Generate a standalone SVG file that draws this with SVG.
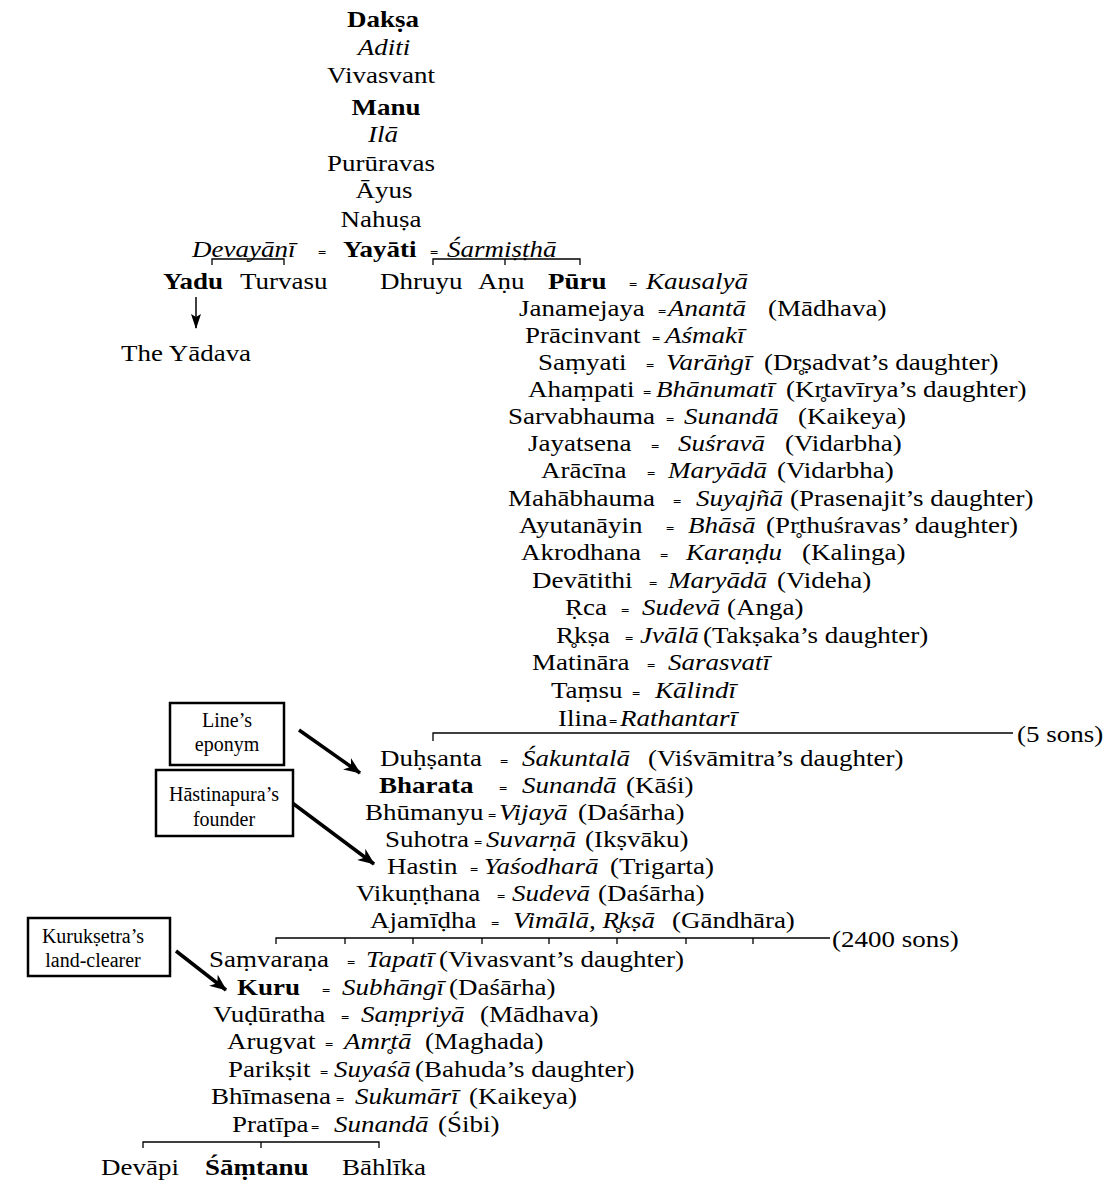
<svg xmlns="http://www.w3.org/2000/svg" width="1115" height="1180" viewBox="0 0 1115 1180">
<style>
text{font-family:"Liberation Serif","Times New Roman",serif;font-size:24px;fill:#000}
.b{font-weight:bold}
.i{font-style:italic}
.eq{font-size:13px;font-style:normal;font-weight:bold}
.m{text-anchor:middle}
.bt{font-size:20px;text-anchor:middle}
.box{fill:#fff;stroke:#000;stroke-width:2.5}
.ln{stroke:#000;stroke-width:1.3;fill:none}
.ar{stroke:#000;stroke-width:3.5;fill:none}
.ya{stroke:#000;stroke-width:1.5;fill:none}
</style>
<defs>
<marker id="hb" markerUnits="userSpaceOnUse" markerWidth="20" markerHeight="14" refX="16" refY="7" orient="auto">
<path d="M0,0 L17,7 L0,14 L5,7 z" fill="#000"/>
</marker>
<marker id="hs" markerUnits="userSpaceOnUse" markerWidth="16" markerHeight="10" refX="14" refY="5" orient="auto">
<path d="M0,0 L15,5 L0,10 L3,5 z" fill="#000"/>
</marker>
</defs>
<rect width="1115" height="1180" fill="#fff"/>

<g id="connectors">
<path class="ln" d="M212,265 V259 H284 V265"/>
<path class="ln" d="M433,265 V259 H580 V265 M505,259 V265"/>
<line class="ya" x1="196" y1="297" x2="196" y2="328" marker-end="url(#hs)"/>
<path class="ln" d="M433,741 V733 H1013"/>
<path class="ln" d="M276,944 V938 H830 M345,938 V944 M413,938 V944 M482,938 V944 M549,938 V944 M617,938 V944 M686,938 V944 M753,938 V944"/>
<path class="ln" d="M143,1148 V1142 H379 V1148 M261,1142 V1148"/>
<line class="ar" x1="299" y1="730" x2="360" y2="773" marker-end="url(#hb)"/>
<line class="ar" x1="291" y1="802" x2="374" y2="864" marker-end="url(#hb)"/>
<line class="ar" x1="176" y1="951" x2="226" y2="990" marker-end="url(#hb)"/>
</g>

<g id="names" transform="scale(1.125,1)">
<g id="n-daksa"><text class="b m" x="340.44" y="27">Dakṣa</text></g>
<g id="n-aditi"><text class="i m" x="341.33" y="55">Aditi</text></g>
<g id="n-vivasvant"><text class="m" x="338.67" y="83">Vivasvant</text></g>
<g id="n-manu"><text class="b m" x="343.11" y="115">Manu</text></g>
<g id="n-ila"><text class="i m" x="340.44" y="142">Ilā</text></g>
<g id="n-pururavas"><text class="m" x="338.67" y="171">Purūravas</text></g>
<g id="n-ayus"><text class="m" x="341.33" y="198">Āyus</text></g>
<g id="n-nahusa"><text class="m" x="338.67" y="227">Nahuṣa</text></g>

<g id="n-yayati"><text y="257"><tspan class="i" x="170.67">Devayānī</tspan> <tspan class="eq" x="282.67">=</tspan> <tspan class="b" x="304.89">Yayāti</tspan> <tspan class="eq" x="382.22">=</tspan> <tspan class="i" x="397.33">Śarmiṣṭhā</tspan></text></g>

<g id="n-yadu"><text class="b" x="144.89" y="289">Yadu</text></g>
<g id="n-turvasu"><text x="213.33" y="289">Turvasu</text></g>
<g id="n-dhruyu"><text x="337.78" y="289">Dhruyu</text></g>
<g id="n-anu"><text x="424.89" y="289">Aṇu</text></g>
<g id="n-puru"><text y="289"><tspan class="b" x="487.11">Pūru</tspan> <tspan class="eq" x="559.11">=</tspan><tspan class="i" x="574.22">Kausalyā</tspan></text></g>
<g id="n-yadava"><text x="107.56" y="361">The Yādava</text></g>

<g id="n-janamejaya"><text y="316"><tspan x="461.33">Janamejaya</tspan> <tspan class="eq" x="584.89">=</tspan><tspan class="i" x="593.78">Anantā</tspan> <tspan x="682.67">(Mādhava)</tspan></text></g>
<g id="n-pracinvant"><text y="343"><tspan x="466.67">Prācinvant</tspan> <tspan class="eq" x="579.56">=</tspan> <tspan class="i" x="591.11">Aśmakī</tspan></text></g>
<g id="n-samyati"><text y="370"><tspan x="478.22">Saṃyati</tspan> <tspan class="eq" x="574.22">=</tspan> <tspan class="i" x="592">Varāṅgī</tspan> <tspan x="679.11">(Dr̥ṣadvat’s daughter)</tspan></text></g>
<g id="n-ahampati"><text y="397"><tspan x="469.33">Ahaṃpati</tspan> <tspan class="eq" x="571.56">=</tspan><tspan class="i" x="583.11">Bhānumatī</tspan> <tspan x="698.67">(Kr̥tavīrya’s daughter)</tspan></text></g>
<g id="n-sarvabhauma"><text y="424"><tspan x="451.56">Sarvabhauma</tspan> <tspan class="eq" x="592">=</tspan> <tspan class="i" x="608">Sunandā</tspan> <tspan x="709.33">(Kaikeya)</tspan></text></g>
<g id="n-jayatsena"><text y="451"><tspan x="469.33">Jayatsena</tspan> <tspan class="eq" x="578.67">=</tspan> <tspan class="i" x="602.67">Suśravā</tspan> <tspan x="697.78">(Vidarbha)</tspan></text></g>
<g id="n-aracina"><text y="478"><tspan x="480.89">Arācīna</tspan> <tspan class="eq" x="575.11">=</tspan> <tspan class="i" x="593.78">Maryādā</tspan> <tspan x="690.67">(Vidarbha)</tspan></text></g>
<g id="n-mahabhauma"><text y="506"><tspan x="451.56">Mahābhauma</tspan> <tspan class="eq" x="598.22">=</tspan> <tspan class="i" x="618.67">Suyajñā</tspan> <tspan x="702.22">(Prasenajit’s daughter)</tspan></text></g>
<g id="n-ayutanayin"><text y="533"><tspan x="461.33">Ayutanāyin</tspan> <tspan class="eq" x="592">=</tspan> <tspan class="i" x="611.56">Bhāsā</tspan> <tspan x="680.89">(Pr̥thuśravas’ daughter)</tspan></text></g>
<g id="n-akrodhana"><text y="560"><tspan x="463.11">Akrodhana</tspan> <tspan class="eq" x="586.67">=</tspan> <tspan class="i" x="609.78">Karaṇḍu</tspan> <tspan x="712.89">(Kalinga)</tspan></text></g>
<g id="n-devatithi"><text y="588"><tspan x="472.89">Devātithi</tspan> <tspan class="eq" x="576.89">=</tspan> <tspan class="i" x="593.78">Maryādā</tspan> <tspan x="690.67">(Videha)</tspan></text></g>
<g id="n-rca"><text y="615"><tspan x="502.22">Ṛca</tspan> <tspan class="eq" x="552">=</tspan> <tspan class="i" x="570.67">Sudevā</tspan> <tspan x="646.22">(Anga)</tspan></text></g>
<g id="n-rksa"><text y="643"><tspan x="494.22">R̥kṣa</tspan> <tspan class="eq" x="555.56">=</tspan> <tspan class="i" x="568.89">Jvālā</tspan> <tspan x="624.89">(Takṣaka’s daughter)</tspan></text></g>
<g id="n-matinara"><text y="670"><tspan x="472.89">Matināra</tspan> <tspan class="eq" x="575.11">=</tspan> <tspan class="i" x="593.78">Sarasvatī</tspan></text></g>
<g id="n-tamsu"><text y="698"><tspan x="489.78">Taṃsu</tspan> <tspan class="eq" x="561.78">=</tspan> <tspan class="i" x="582.22">Kālindī</tspan></text></g>
<g id="n-ilina"><text y="726"><tspan x="496">Ilina</tspan> <tspan class="eq" x="541.33">=</tspan> <tspan class="i" x="551.11">Rathantarī</tspan></text></g>
<g id="n-5sons"><text x="904" y="742">(5 sons)</text></g>

<g id="n-duhsanta"><text y="766"><tspan x="337.78">Duḥṣanta</tspan> <tspan class="eq" x="444.44">=</tspan> <tspan class="i" x="464">Śakuntalā</tspan> <tspan x="576">(Viśvāmitra’s daughter)</tspan></text></g>
<g id="n-bharata"><text y="793"><tspan class="b" x="336.89">Bharata</tspan> <tspan class="eq" x="443.56">=</tspan> <tspan class="i" x="464">Sunandā</tspan> <tspan x="556.44">(Kāśi)</tspan></text></g>
<g id="n-bhumanyu"><text y="820"><tspan x="324.44">Bhūmanyu</tspan> <tspan class="eq" x="433.78">=</tspan> <tspan class="i" x="443.56">Vijayā</tspan> <tspan x="513.78">(Daśārha)</tspan></text></g>
<g id="n-suhotra"><text y="847"><tspan x="342.22">Suhotra</tspan> <tspan class="eq" x="421.33">=</tspan> <tspan class="i" x="432">Suvarṇā</tspan> <tspan x="520">(Ikṣvāku)</tspan></text></g>
<g id="n-hastin"><text y="874"><tspan x="344">Hastin</tspan> <tspan class="eq" x="417.78">=</tspan> <tspan class="i" x="430.22">Yaśodharā</tspan> <tspan x="542.22">(Trigarta)</tspan></text></g>
<g id="n-vikunthana"><text y="901"><tspan x="316.44">Vikuṇṭhana</tspan> <tspan class="eq" x="441.78">=</tspan> <tspan class="i" x="455.11">Sudevā</tspan> <tspan x="531.56">(Daśārha)</tspan></text></g>
<g id="n-ajamidha"><text y="928"><tspan x="328.89">Ajamīḍha</tspan> <tspan class="eq" x="436.44">=</tspan> <tspan class="i" x="456">Vimālā, R̥kṣā</tspan> <tspan x="597.33">(Gāndhāra)</tspan></text></g>
<g id="n-2400sons"><text x="739.56" y="947">(2400 sons)</text></g>

<g id="n-samvarana"><text y="967"><tspan x="185.78">Saṃvaraṇa</tspan> <tspan class="eq" x="308.44">=</tspan> <tspan class="i" x="325.33">Tapatī</tspan> <tspan x="390.22">(Vivasvant’s daughter)</tspan></text></g>
<g id="n-kuru"><text y="995"><tspan class="b" x="210.67">Kuru</tspan> <tspan class="eq" x="286.22">=</tspan> <tspan class="i" x="304">Subhāngī</tspan> <tspan x="399.11">(Daśārha)</tspan></text></g>
<g id="n-vuduratha"><text y="1022"><tspan x="189.33">Vuḍūratha</tspan> <tspan class="eq" x="303.11">=</tspan> <tspan class="i" x="320.89">Saṃpriyā</tspan> <tspan x="426.67">(Mādhava)</tspan></text></g>
<g id="n-arugvat"><text y="1049"><tspan x="201.78">Arugvat</tspan> <tspan class="eq" x="288.89">=</tspan> <tspan class="i" x="305.78">Amr̥tā</tspan> <tspan x="377.78">(Maghada)</tspan></text></g>
<g id="n-pariksit"><text y="1077"><tspan x="202.67">Parikṣit</tspan> <tspan class="eq" x="284.44">=</tspan><tspan class="i" x="296.89">Suyaśā</tspan> <tspan x="368.89">(Bahuda’s daughter)</tspan></text></g>
<g id="n-bhimasena"><text y="1104"><tspan x="187.56">Bhīmasena</tspan><tspan class="eq" x="298.67">=</tspan> <tspan class="i" x="315.56">Sukumārī</tspan> <tspan x="416.89">(Kaikeya)</tspan></text></g>
<g id="n-pratipa"><text y="1132"><tspan x="206.22">Pratīpa</tspan><tspan class="eq" x="276.44">=</tspan> <tspan class="i" x="296.89">Sunandā</tspan> <tspan x="389.33">(Śibi)</tspan></text></g>
<g id="n-devapi"><text x="89.78" y="1175">Devāpi</text></g>
<g id="n-samtanu"><text class="b" x="182.22" y="1175">Śāṃtanu</text></g>
<g id="n-bahlika"><text x="304" y="1175">Bāhlīka</text></g>
</g>

<g id="n-box-eponym"><rect class="box" x="170" y="703" width="114" height="62"/><text class="bt" x="227" y="727">Line’s</text><text class="bt" x="227" y="751">eponym</text></g>
<g id="n-box-hastinapura"><rect class="box" x="156" y="770" width="137" height="66"/><text class="bt" x="224" y="801">Hāstinapura’s</text><text class="bt" x="224" y="826">founder</text></g>
<g id="n-box-kuruksetra"><rect class="box" x="28" y="918" width="142" height="58"/><text class="bt" x="93" y="943">Kurukṣetra’s</text><text class="bt" x="93" y="967">land-clearer</text></g>
</svg>
